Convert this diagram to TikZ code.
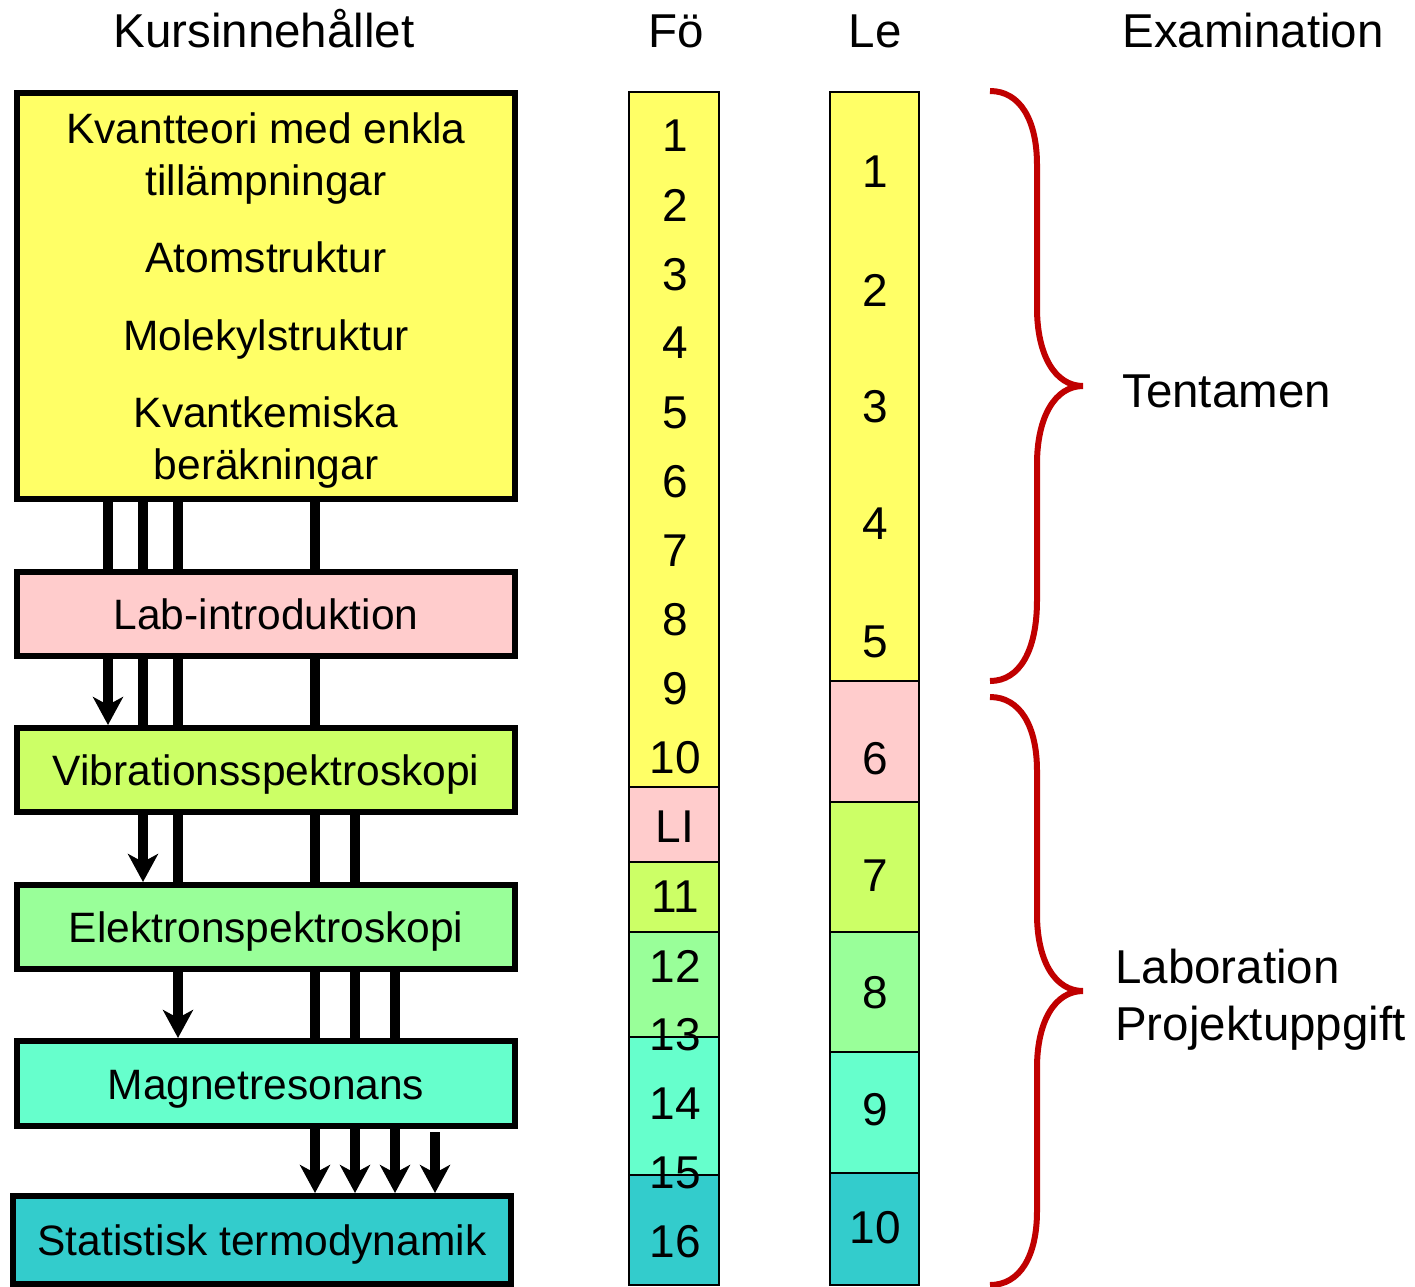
\documentclass[tikz,border=0pt]{standalone}
\usepackage{fontspec}
\setmainfont{Liberation Sans}
\usetikzlibrary{arrows.meta,backgrounds}
\definecolor{cyel}{HTML}{FFFF66}
\definecolor{cpink}{HTML}{FFCCCC}
\definecolor{clime}{HTML}{CCFF66}
\definecolor{cgreen}{HTML}{99FF99}
\definecolor{caqua}{HTML}{66FFCC}
\definecolor{cteal}{HTML}{33CCCC}
\definecolor{cbrace}{HTML}{C00000}
\begin{document}
\begin{tikzpicture}[x=1pt,y=-1pt,
  box/.style={draw=black,line width=6pt,minimum width=498pt,inner sep=0pt,
    font=\fontsize{42.5}{52}\selectfont,align=center},
  onebox/.style={box,text height=31pt,text depth=0pt},
  conn/.style={line width=10pt},
  arr/.style={conn,-{Stealth[length=28pt,width=30pt,inset=8pt]}},
  seg/.style={draw=black,line width=2pt},
  num/.style={font=\fontsize{46}{50}\selectfont,inner sep=0pt},
  head/.style={font=\fontsize{47.5}{55}\selectfont,inner sep=0pt,anchor=base},
  exam/.style={font=\fontsize{47.5}{57}\selectfont,inner sep=0pt},
  brace/.style={draw=cbrace,line width=6pt}]
\useasboundingbox (0,0) rectangle (1415,1286);

% headers
\node[head] (hkurs) at (264,47) {Kursinnehållet};
\node[head] (hfo) at (676,47) {Fö};
\node[head] (hle) at (875,47) {Le};
\node[head] (hexam) at (1253,47) {Examination};

% course boxes
\node[box,fill=cyel,minimum height=406pt] (kv) at (266,296)
  {\rule{0pt}{39pt}Kvantteori med enkla\\tillämpningar\\[25pt]Atomstruktur\\[26pt]Molekylstruktur\\[25pt]Kvantkemiska\\beräkningar};
\node[onebox,fill=cpink,minimum height=84pt] (lab) at (266,614) {Lab-introduktion};
\node[onebox,fill=clime,minimum height=84pt] (vib) at (266,770) {Vibrationsspektroskopi};
\node[onebox,fill=cgreen,minimum height=84pt] (elek) at (266,927) {Elektronspektroskopi};
\node[onebox,fill=caqua,minimum height=85pt] (mag) at (266,1083.5) {Magnetresonans};
\node[onebox,fill=cteal,minimum height=88pt] (stat) at (262,1240) {Statistisk termodynamik};

% connectors behind boxes
\coordinate (x1) at (108,0);
\coordinate (x2) at (143,0);
\coordinate (x3) at (178,0);
\coordinate (x4) at (315,0);
\coordinate (x5) at (355,0);
\coordinate (x6) at (395,0);
\coordinate (x7) at (435,0);
\begin{scope}[on background layer]
\draw[arr] (x1 |- kv.south) -- (x1 |- vib.north);
\draw[arr] (x2 |- kv.south) -- (x2 |- elek.north);
\draw[arr] (x3 |- kv.south) -- (x3 |- mag.north);
\draw[arr] (x4 |- kv.south) -- (x4 |- stat.north);
\draw[arr] (x5 |- vib.south) -- (x5 |- stat.north);
\draw[arr] (x6 |- elek.south) -- (x6 |- stat.north);
\draw[arr] ([yshift=-3pt]x7 |- mag.south) -- (x7 |- stat.north);
\end{scope}

% Fö column
\draw[seg,fill=cyel]   (629,92)   rectangle (719,787);
\draw[seg,fill=cpink]  (629,787)  rectangle (719,862);
\draw[seg,fill=clime]  (629,862)  rectangle (719,932);
\draw[seg,fill=cgreen] (629,932)  rectangle (719,1037);
\draw[seg,fill=caqua]  (629,1037) rectangle (719,1175);
\draw[seg,fill=cteal]  (629,1175) rectangle (719,1285);
\foreach \t/\yy in {1/136,2/205,3/275,4/343,5/413,6/482,7/551,8/620,9/689,10/758,11/897,12/966,13/1035,14/1104,15/1173,16/1242}
  \node[num] (fo\t) at (675,\yy) {\t};
\node[num] (foli) at (675,827) {LI};

% Le column
\draw[seg,fill=cyel]   (830,92)   rectangle (919,681);
\draw[seg,fill=cpink]  (830,681)  rectangle (919,802);
\draw[seg,fill=clime]  (830,802)  rectangle (919,932);
\draw[seg,fill=cgreen] (830,932)  rectangle (919,1052);
\draw[seg,fill=caqua]  (830,1052) rectangle (919,1173);
\draw[seg,fill=cteal]  (830,1173) rectangle (919,1285);
\foreach \t/\yy in {1/172,2/290,3/407,4/524,5/642,6/759,7/876,8/993,9/1110,10/1228}
  \node[num] (le\t) at (875,\yy) {\t};

% braces
\draw[brace] (990,91) .. controls (1020,91) and (1037,120) .. (1037,165) -- (1037,308)
  .. controls (1037,355) and (1055,386) .. (1083,386)
  .. controls (1055,386) and (1037,417) .. (1037,464) -- (1037,600)
  .. controls (1037,650) and (1020,681) .. (990,681);
\draw[brace] (990,697) .. controls (1020,697) and (1037,726) .. (1037,771) -- (1037,914)
  .. controls (1037,961) and (1055,991) .. (1083,991)
  .. controls (1055,991) and (1037,1021) .. (1037,1068) -- (1037,1211)
  .. controls (1037,1256) and (1020,1285) .. (990,1285);

% examination labels
\node[exam,anchor=base west] (tent) at (1122,407) {Tentamen};
\node[exam,anchor=west,align=left] (labp) at (1115,1000) {Laboration\\Projektuppgift};
\end{tikzpicture}
\end{document}
